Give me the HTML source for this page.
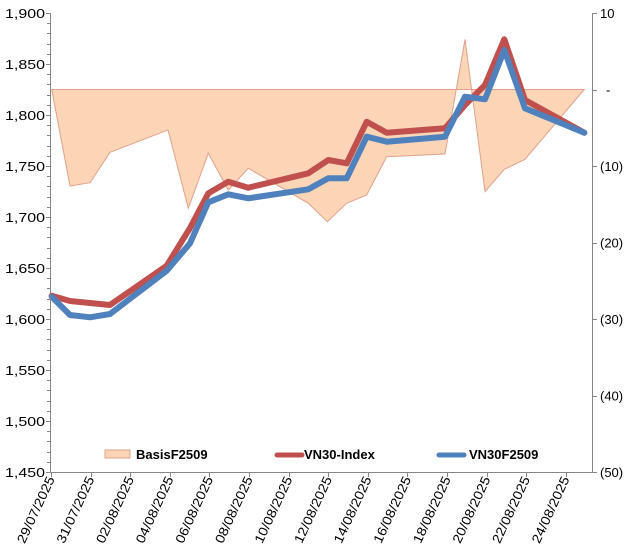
<!DOCTYPE html>
<html><head><meta charset="utf-8"><style>
html,body{margin:0;padding:0;background:#fff;}
svg{display:block;font-family:"Liberation Sans",Arial,sans-serif;font-size:13px;fill:#000;}
</style></head><body>
<svg width="635" height="551" viewBox="0 0 635 551" xmlns="http://www.w3.org/2000/svg">
<rect width="635" height="551" fill="#fff"/>
<polygon fill="#FBD5B5" stroke="#E3A08E" stroke-width="1" points="51.7,89.5 70,186 90,182.7 110,152.3 168,130 188.3,208.3 208.3,153.3 228.3,190 248.3,168.3 308.3,203.3 327.3,221.7 346.7,203.3 366.7,195 386.7,156.7 445,154 465,39.3 485,191.7 504.3,169.3 525,159.3 584.3,89.5"/>
<line x1="51.7" y1="89.5" x2="584.3" y2="89.5" stroke="#E3A08E" stroke-width="1"/>
<polyline fill="none" stroke="#C0504D" stroke-width="6" stroke-linejoin="round" stroke-linecap="round" points="51.7,295.7 70,301 90,303 110,305 166.7,265.7 190,228 208.3,193.3 228.3,181.7 248.3,187.7 308.3,173.3 328.3,160 346.7,163.3 366.7,121.7 386.7,132.7 445,128.3 465,105 485,85 504.3,39.3 525,100 584.3,132.7"/>
<polyline fill="none" stroke="#4F81BD" stroke-width="6" stroke-linejoin="round" stroke-linecap="round" points="51.7,296.7 70,315 90,317.3 110,314 166.7,270.7 190,243.3 208.3,202.3 228.3,194.3 248.3,198.3 308.3,189.3 328.3,178.3 346.7,178.3 366.7,136.7 386.7,141.7 445,136.7 465,96.7 485,99.3 504.3,50 525,108.3 584.3,132.7"/>
<g stroke="#868686" stroke-width="1">
<line x1="50.5" y1="13" x2="50.5" y2="472"/>
<line x1="50" y1="472.5" x2="593" y2="472.5"/>
<line x1="592.5" y1="13" x2="592.5" y2="472"/>
</g>
<g id="lt" stroke="#868686" stroke-width="1"></g>
<g id="ll" text-anchor="end"></g>
<g id="rl"></g>
<g id="xl"></g>
<rect x="105" y="450" width="25" height="8" fill="#FBD5B5" stroke="#E3A08E"/>
<text x="136" y="459" font-weight="bold">BasisF2509</text>
<line x1="277" y1="455" x2="302" y2="455" stroke="#C0504D" stroke-width="5" stroke-linecap="round"/>
<text x="304" y="459" font-weight="bold">VN30-Index</text>
<line x1="439" y1="455" x2="464" y2="455" stroke="#4F81BD" stroke-width="5" stroke-linecap="round"/>
<text x="469" y="459" font-weight="bold">VN30F2509</text>
<script>
var ns="http://www.w3.org/2000/svg";
function el(p,t,a,txt){var e=document.createElementNS(ns,t);for(var k in a)e.setAttribute(k,a[k]);if(txt)e.textContent=txt;document.getElementById(p).appendChild(e);}
for(var v=1450;v<=1900;v+=10){var y=13+(1900-v)*1.02;y=Math.round(y)+0.5;el("lt","line",{x1:(v%50==0?46:47),y1:y,x2:50,y2:y});}
for(var v=1450;v<=1900;v+=50){var y=13+(1900-v)*1.02;el("ll","text",{x:45,y:y+5,textLength:40,lengthAdjust:"spacingAndGlyphs"},(v/1000|0)+","+String(v%1000).padStart(3,"0"));}
var rl=["10","-","(10)","(20)","(30)","(40)","(50)"];
for(var i=0;i<7;i++){var y=13+i*76.5;var yy=Math.round(y)+0.5;el("lt","line",{x1:592,y1:yy,x2:597,y2:yy});el("rl","text",{x:(i==1?606:600),y:y+5},rl[i]);}
var d=["29/07/2025","31/07/2025","02/08/2025","04/08/2025","06/08/2025","08/08/2025","10/08/2025","12/08/2025","14/08/2025","16/08/2025","18/08/2025","20/08/2025","22/08/2025","24/08/2025"];
for(var i=0;i<14;i++){var x=51+39.6*i;var xx=Math.round(x)+0.5;el("lt","line",{x1:xx,y1:472,x2:xx,y2:477});el("xl","text",{x:0,y:0,"text-anchor":"end",textLength:72,lengthAdjust:"spacingAndGlyphs",transform:"translate("+(x+4)+",479) rotate(-65)"},d[i]);}
</script>
</svg>
</body></html>
